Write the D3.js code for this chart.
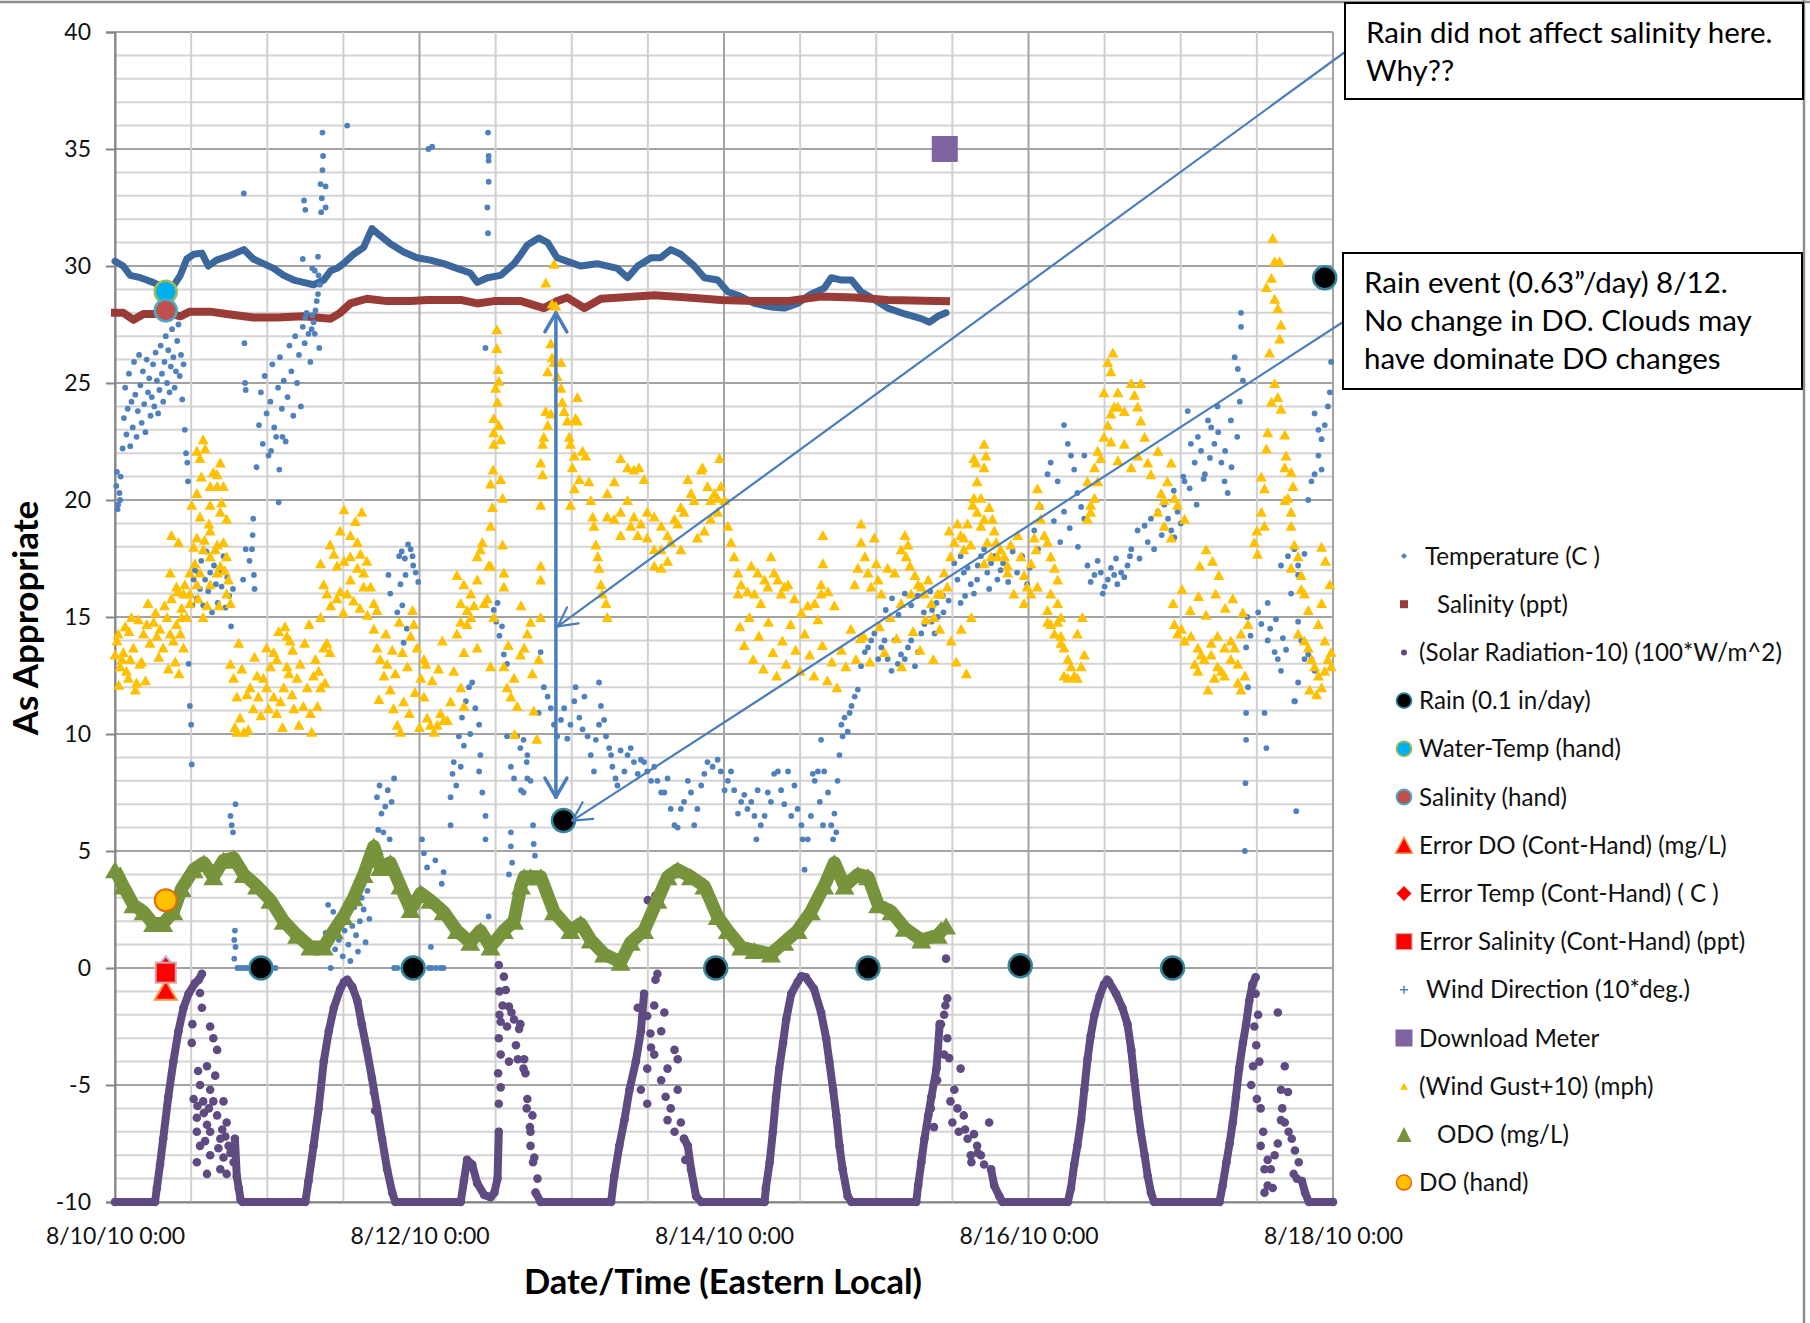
<!DOCTYPE html>
<html><head><meta charset="utf-8">
<script src="https://cdn.jsdelivr.net/npm/d3@7"></script>
<style>body{margin:0;background:#fff;} svg text{font-family:Lato,'Open Sans',sans-serif;}</style>
</head><body><svg id="c" width="1810" height="1323"></svg>
<script>
// ---------------- DATA (hours since 8/10/10 0:00, value) ----------------
const xTickHours = [0,48,96,144,192];
const xTickLabels = ["8/10/10 0:00","8/12/10 0:00","8/14/10 0:00","8/16/10 0:00","8/18/10 0:00"];
const yTicks = [-10,-5,0,5,10,15,20,25,30,35,40];

const temperature = [[0,30.2],[1.3,30.0],[2.4,29.6],[4,29.5],[5,29.4],[6,29.3],[7.6,29.1],[9.2,29.15],[10.3,29.6],[11.3,30.3],[12.4,30.5],[13.7,30.55],[14.7,30.0],[16,30.25],[17.6,30.4],[19,30.55],[20.3,30.7],[21.8,30.3],[23.4,30.1],[25,29.9],[26.6,29.6],[28.2,29.4],[29.7,29.3],[31.3,29.2],[32.9,29.4],[34,29.8],[35,29.9],[36,30.1],[37.6,30.5],[39.2,30.8],[40.5,31.6],[41.8,31.3],[43.4,30.95],[45.5,30.6],[47.6,30.35],[49.7,30.25],[51.8,30.1],[53.9,29.9],[56,29.7],[57.1,29.3],[58.7,29.5],[60.8,29.6],[62.9,30.1],[64,30.5],[65,30.9],[66.8,31.2],[68.2,31.0],[69.7,30.35],[71.3,30.2],[73.4,30.0],[76,30.1],[79.2,29.9],[80.8,29.5],[82.4,30.0],[84.5,30.35],[86,30.35],[87.6,30.7],[89.2,30.5],[91.3,30.0],[92.9,29.5],[95,29.4],[96.6,28.9],[98.2,28.75],[100.8,28.4],[103.4,28.25],[105.5,28.2],[107.6,28.4],[109.7,28.8],[111.8,29.05],[112.9,29.5],[114.5,29.4],[116.1,29.4],[117.6,28.9],[119.2,28.65],[121.8,28.2],[124.5,27.95],[127.1,27.75],[128.4,27.6],[129.7,27.85],[131,28.0]];

const salinity = [[0,28.0],[1.3,28.0],[2.9,27.7],[4.5,27.95],[9,27.95],[10.3,27.85],[11.8,28.05],[15,28.05],[17.6,27.95],[21.8,27.8],[25.5,27.8],[29.7,27.85],[34,27.75],[35.5,28.0],[37.1,28.4],[39.7,28.6],[42.9,28.5],[46.6,28.5],[49.2,28.55],[54.5,28.55],[57.1,28.4],[59.7,28.5],[64,28.5],[67.6,28.2],[69.7,28.5],[71.3,28.65],[74,28.2],[76.6,28.6],[79.7,28.65],[85,28.75],[90.3,28.65],[95.5,28.55],[100.8,28.5],[106,28.5],[111.3,28.7],[116.6,28.65],[121.8,28.55],[131,28.5]];

const solarRadiation = [[0,-10],[6.3,-10],[6.6,-9.4],[7.1,-8.4],[7.6,-7.3],[8.4,-5.5],[9.2,-4.0],[10,-2.7],[10.8,-1.7],[11.6,-1.1],[12.6,-0.65],[13.2,-0.5],[13.7,-0.25],null,
[18.9,-7.3],[19.2,-8.9],[19.5,-9.4],[19.8,-9.9],[20.1,-10],[30,-10],[30.5,-9.1],[31.3,-7.6],[32.1,-6.0],[32.9,-4.0],[33.7,-2.7],[34.5,-1.7],[35.5,-0.9],[36.1,-0.6],[36.6,-0.5],[37.4,-0.8],[38.2,-1.4],[38.9,-2.4],[39.7,-3.5],[40.5,-4.7],[41.3,-6.0],[42.1,-7.3],[42.9,-8.6],[43.7,-9.6],[44.2,-10],[54.5,-10],[55,-9.1],[55.5,-8.2],[56.3,-8.4],[57.1,-9.2],[58.2,-9.7],[59.2,-9.8],[59.8,-9.6],[60.3,-9.0],[60.5,-7.0],null,
[66.3,-9.6],[67.1,-10],[78.2,-10],[78.7,-8.9],[79.5,-7.6],[80.3,-6.5],[81.1,-5.2],[82.1,-4.0],[82.9,-2.7],[83.4,-1.1],null,
[89.7,-7.3],[90.3,-7.6],[90.8,-8.6],[91.6,-9.75],[92.4,-10],[102.4,-10],[102.6,-9.4],[103.2,-8.3],[103.7,-7.0],[104.2,-5.5],[104.7,-4.3],[105.3,-3.2],[105.8,-2.2],[106.6,-1.1],[107.6,-0.6],[108.2,-0.35],[108.9,-0.4],[110.2,-0.9],[111.3,-1.9],[112.1,-3.0],[112.6,-4.0],[113.2,-5.2],[113.7,-6.3],[114.2,-7.6],[114.7,-8.6],[115.5,-9.75],[116.1,-10],[126.3,-10],[126.6,-9.3],[127.1,-8.3],[127.6,-7.3],[128.2,-6.3],[128.7,-5.5],[129.5,-4.3],[130,-2.4],null,
[138.1,-8.6],[138.6,-9.3],[139.4,-9.75],[139.9,-10],[150.2,-10],[150.7,-9.4],[151.2,-8.4],[151.7,-7.6],[152.3,-6.5],[152.8,-5.2],[153.3,-3.9],[153.8,-2.9],[154.4,-2.0],[155.2,-1.2],[155.9,-0.7],[156.4,-0.5],[156.7,-0.6],[157.8,-1.1],[158.8,-1.7],[159.6,-2.4],[160.2,-3.5],[160.7,-4.8],[161.2,-6.0],[161.7,-7.0],[162.3,-8.0],[162.8,-8.9],[163.3,-9.6],[163.8,-10],[174.1,-10],[174.6,-9.3],[175.2,-8.3],[175.7,-7.5],[176.2,-6.6],[176.7,-5.5],[177.2,-4.3],[177.8,-3.2],[178.3,-2.4],[178.8,-1.4],[179.3,-0.7],[179.8,-0.4],null,
[187.1,-9.1],[187.6,-9.6],[188.2,-10],[192,-10]];

const solarCloudy = [[12.1,-3.2],[13.4,-1.07],[13.7,-1.7],[15.0,-2.5],[15.5,-3.0],[14.5,-4.2],[16.1,-3.5],[15.0,-5.2],[13.4,-5.0],[12.4,-5.6],[13.9,-5.7],[15.5,-5.7],[17.1,-5.7],[12.9,-6.4],[14.5,-6.7],[16.1,-6.3],[17.6,-6.6],[12.9,-7.0],[15.0,-7.0],[16.6,-7.3],[17.9,-7.6],[13.4,-7.6],[15.0,-8.0],[17.1,-8.1],[12.9,-8.3],[14.5,-8.8],[17.6,-8.8],[18.7,-8.3],[14.0,-6.2],[16.6,-8.6],[18.2,-7.9],[12.2,-2.4],[13.0,-5.9],[14.2,-7.4],[16.9,-6.9],[13.1,-4.4],[15.8,-4.6],[16.3,-7.7],[14.8,-6.0],[17.4,-7.2],
[40.8,-5.3],[41.0,-6.1],
[60.5,0.13],[60.6,-1.0],[60.6,-2.0],[60.5,-3.0],[60.4,-4.5],[60.5,-5.8],[61.3,-0.37],[61.6,-0.94],[62.1,-1.65],[60.8,-2.3],[62.9,-2.2],[63.7,-2.6],[63.2,-3.3],[60.8,-3.7],[62.1,-4.0],[64.5,-3.9],[64.7,-4.5],[60.8,-5.1],[65,-5.6],[65.8,-6.3],[65.5,-7.0],[65.5,-7.6],[66.1,-8.1],[66.6,-9.0],[63.9,-2.4],[64.4,-4.3],[64.9,-6.0],[65.4,-6.8],[65.9,-8.3],[61.8,-2.5],[62.5,-1.9],[61.1,-1.6],[63.5,-3.9],
[83.9,-2.05],[85.5,-0.25],[85,-1.6],[84.5,-3.4],[86.1,-2.7],[87.1,-4.3],[88.2,-3.5],[88.7,-5.2],[89.2,-6.6],[82.4,-1.7],[86.6,-1.9],[83.9,-4.3],[86.1,-4.8],[87.6,-6.0],[82.9,-5.2],[88.7,-3.9],[85,-3.7],[87.1,-6.5],[89.7,-7.3],[83.9,-5.8],[88.2,-7.0],[85.2,-0.5],[84.4,-2.8],[86.8,-5.5],[89.9,-8.2],[84,2.9],[85.2,3.1],
[131,0.4],[131.2,-1.3],[130.7,-2.0],[130.2,-2.4],[131.2,-3.0],[130.7,-3.7],[131.5,-3.85],[129.6,-4.8],[128.6,-6.0],[129.1,-6.8],[132.3,-5.2],[133.3,-4.3],[132.8,-6.0],[133.8,-6.3],[134.4,-7.3],[135.4,-7.1],[135.9,-7.6],[137.8,-6.6],[136.5,-8.0],[137,-8.4],[134.9,-8.0],[131.7,-5.7],[130.9,-1.6],[132,-6.6],[133,-7.0],[134,-6.9],[136,-7.9],[135,-8.3],
[179.8,-1.1],[180.4,-4.0],[179.1,-5.0],[180.6,-7.6],[181.2,-8.6],[181.7,-9.3],[181.2,-9.6],[183.3,-1.9],[183.8,-5.2],[184.4,-4.2],[184.9,-5.3],[183.3,-7.5],[182.8,-8.0],[183.8,-6.5],[184.4,-6.6],[185.5,-7.3],[186,-7.8],[186.6,-8.3],[181.7,-8.2],[182.2,-8.6],[179.6,-2.5],[179.9,-3.3],[180.2,-2.0],[180.6,-6.0],[181,-7.0],[184,-6.0],[185,-7.0],[185.8,-8.8],[186.3,-9.0],[182.5,-9.4],[179.4,-4.2],[180,-5.6]];

const rain = [[23,0],[47,0],[70.7,6.3],[94.7,0],[118.7,0],[142.7,0.1],[166.7,0],[190.7,29.5]];
const waterTempHand = [[8,28.9]];
const salinityHand = [[8,28.1]];
const errorDO = [[8,-0.95]];
const errorTemp = [[8,0.0]];
const errorSalinity = [[8,-0.2]];
const downloadMeter = [[130.8,35.0]];
const doHand = [[8,2.9]];

const odo = [[0,4.2],[1.3,3.5],[2.9,2.7],[4.5,2.4],[6,1.9],[7.6,1.9],[9.2,2.4],[10.5,3.4],[12.4,4.2],[14,4.5],[15.5,3.9],[17.1,4.6],[18.7,4.7],[20.3,4.0],[22.4,3.5],[24.5,2.9],[26.6,2.0],[28.7,1.4],[30.8,0.9],[32.9,0.9],[34.5,1.6],[36,2.2],[37.6,3.0],[39.2,4.0],[40.8,5.2],[41.8,4.3],[43.4,4.5],[45,3.5],[46.6,2.5],[48.2,3.2],[49.7,2.9],[51.8,2.4],[53.9,1.6],[56,1.1],[57.6,1.6],[59.2,0.9],[61.3,1.6],[62.9,2.0],[64,3.5],[64.5,3.9],[65.5,3.9],[67.1,3.9],[69.2,2.4],[71.8,1.6],[73.4,1.9],[75,1.2],[77.1,0.6],[79.7,0.25],[81.3,1.1],[83.4,1.6],[85.5,2.9],[87.1,3.9],[88.7,4.2],[90.8,3.9],[92.9,3.5],[95,2.2],[96.6,1.6],[98.7,0.9],[100.8,0.75],[103.4,0.6],[105.5,1.1],[107.6,1.6],[109.7,2.4],[111.8,3.5],[113.4,4.5],[115,3.5],[117.1,4.0],[118.7,3.9],[120.3,2.7],[122.4,2.4],[124.5,1.7],[127.1,1.2],[129.7,1.4],[131,1.8]];

const windDirection = [[0.2,20.6],[0.3,21.2],[0.5,19.8],[0.7,20.3],[0.9,21.0],[0.4,19.6],[0.8,20.0],
[1.2,22.2],[1.4,23.5],[1.6,24.8],[1.8,22.8],[2.0,23.9],[2.2,25.4],[2.4,22.3],[2.6,24.2],[2.8,23.1],[3.0,25.9],[3.2,24.5],[3.4,22.7],[3.6,23.8],[3.8,26.2],[4.0,24.9],[4.2,23.3],[4.4,25.5],[4.6,24.1],[4.8,22.9],[5.0,26.0],[5.2,24.6],[5.4,25.2],[5.6,23.6],[5.8,24.4],[6.0,25.8],[6.2,24.0],[6.4,26.3],[6.6,25.1],[6.8,23.7],[7.0,24.7],[7.2,26.6],[7.4,25.4],[7.6,24.2],[7.8,25.9],[8.0,27.0],[8.2,25.0],[8.4,26.4],[8.6,24.6],[8.8,25.7],[9.0,27.3],[9.2,26.1],[9.4,24.8],[9.6,25.5],[9.8,26.8],[10.0,27.5],[10.2,25.3],[10.4,26.2],[10.6,24.3],[10.8,25.8],[11.0,23.0],[11.2,22.0],[11.4,21.6],[11.5,20.8],
[11.6,13.0],[11.8,11.2],[12.0,10.4],[12.1,8.7],[12.2,15.5],[12.4,16.6],
[12.6,17.0],[12.9,15.8],[13.1,16.9],[13.4,16.2],[13.6,17.4],[13.9,15.5],[14.2,16.6],[14.4,17.8],[14.7,16.1],[15.0,16.9],[15.3,15.2],[15.6,17.2],[15.9,16.4],[16.2,15.6],[16.5,17.0],[16.8,16.3],[17.1,17.6],[17.4,15.4],[17.7,16.7],[18.0,15.9],[18.3,14.6],[18.6,16.2],
[18.2,6.5],[18.4,6.1],[18.6,5.8],[19.0,7.0],[18.9,1.6],[18.8,1.2],[19.0,0.9],[18.8,0.4],[19.3,0],[19.8,0],[20.3,0],[20.7,0],[25.3,0],
[20.3,33.1],[20.4,26.7],[20.5,25.0],[20.6,24.7],[20.2,16.6],[20.6,17.9],[21.2,17.4],[21.6,17.9],[21.8,19.2],[21.7,18.5],[21.9,16.8],[22.0,16.2],
[22.3,21.4],[22.7,23.2],[23.0,24.6],[23.3,22.4],[23.6,25.3],[23.9,23.7],[24.2,21.9],[24.5,24.2],[24.8,25.8],[25.1,23.1],[25.4,22.7],[25.7,24.8],[26.0,26.1],[26.3,23.9],[26.6,25.1],[26.9,22.5],[27.2,24.4],[27.5,26.6],[27.8,25.5],[28.1,23.6],[28.4,27.0],[28.7,25.0],[29.0,26.2],[29.3,24.0],[29.6,27.4],[29.9,26.7],[30.2,28.0],[30.5,27.1],[30.8,25.9],[24.6,22.1],[25.9,21.3],[26.4,22.7],[25.8,19.9],
[29.6,30.3],[29.8,32.8],[30.0,32.4],[32.7,35.7],[32.8,34.7],[32.7,34.1],[32.4,33.5],[33.2,33.4],[32.6,32.9],[33.2,32.5],[32.5,32.3],[32.0,30.4],[31.1,29.9],[31.5,29.8],[32.1,29.6],[32.3,29.2],[31.8,28.5],[31.6,28.1],[31.1,27.9],[31.3,27.6],[30.0,27.8],[31.0,27.3],[31.5,27.1],[32.2,26.5],[32.0,28.8],
[33.2,1.5],[33.6,2.7],[34.0,0],[34.4,2.4],[34.7,0.8],[35.0,1.9],[35.3,1.2],[35.6,2.2],[35.9,0.5],[36.2,1.6],[36.5,2.3],[36.8,1.0],[37.1,0.3],[37.4,1.8],[37.7,2.6],[38.0,1.4],[38.3,0.7],[38.6,2.0],[38.9,3.0],[39.2,2.5],[39.5,1.1],[39.8,3.3],[40.1,2.1],[36.6,36.0],
[41.3,7.3],[41.7,7.8],[42.0,6.6],[42.3,5.8],[42.6,6.9],[43.0,7.6],[43.3,5.5],[43.6,7.1],[44.0,8.1],[41.5,5.9],
[43.1,16.8],[43.4,16.0],[44.8,17.6],[45.2,17.8],[45.7,17.5],[46.2,18.1],[46.6,17.9],[47.0,17.2],[47.4,16.9],[45.8,16.8],[45.0,16.4],[45.3,15.5],[46.9,17.6],[47.8,16.5],[44.5,15.2],[46.0,14.5],[45.5,13.9],
[44.0,0],[44.5,0],[49.5,0],[49.9,0],[50.6,0],[51.3,0],[51.8,0],
[48.4,5.5],[48.7,4.9],[49.2,4.3],[50.5,4.6],[51.8,4.1],[51.5,3.6],[49.8,2.9],[49.8,0.9],[49.4,35.0],[50.0,35.1],
[52.9,7.3],[52.9,6.1],[53.4,8.8],[53.2,8.3],[54.2,9.9],[54.7,10.7],[55.3,11.4],[55.8,12.0],[56.3,12.2],[56.8,11.1],[57.4,10.4],[57.4,8.4],[57.6,9.1],[57.9,7.5],[58.4,5.5],[58.4,6.5],[58.9,2.2],[55.0,9.5],[56.0,10.0],[53.8,7.8],[54.5,8.6],
[58.8,35.7],[58.9,34.7],[58.9,34.5],[58.9,33.6],[58.7,32.5],[58.8,31.4],[58.4,26.5],
[59.7,15.3],[60.1,14.8],[60.6,14.2],[61.3,13.4],[61.8,13.0],[60.3,15.6],[61.0,14.6],[61.8,9.9],[62.4,8.6],[62.9,8.1],[62.4,5.8],[62.4,5.2],[62.6,4.5],[62.1,4.0],[63.4,9.9],[63.9,9.4],[65.0,9.1],[65.0,8.1],[64.4,9.75],[64.9,8.8],[65.5,8.0],[65.9,6.1],[66.0,5.3],[66.2,4.8],[67.1,13.5],[67.6,12.0],[66.8,10.9],[64.4,7.5],[64.0,7.6],
[68.2,11.6],[69.2,10.4],[69.7,9.9],[70.8,11.1],[71.8,10.4],[72.6,12.0],[73.2,10.7],[73.7,10.2],[74.5,9.9],[75.0,9.1],[75.5,8.4],[76.3,12.2],[76.6,11.2],[76.3,10.4],[77.4,9.9],[77.9,9.4],[78.4,8.6],[78.9,8.1],[79.2,7.8],[79.7,9.3],[80.8,9.1],[81.8,8.8],[82.9,8.9],[83.9,8.4],[85.0,8.6],[68.7,11.1],[70.3,10.6],[71.3,9.8],[72.4,11.4],[74.0,11.6],[75.8,9.75],[77.1,10.6],[78.2,9.1],[80.3,8.4],[81.3,9.4],[82.4,8.3],[83.4,8.8],[84.5,8.0],
[85.5,8.0],[86.6,7.5],[87.6,6.8],[88.2,6.1],[88.7,6.0],[89.7,7.1],[90.8,7.5],[91.8,6.8],[92.4,7.8],[93.4,8.8],[94.2,8.6],[95.5,8.4],[96.6,8.0],[97.6,7.6],[98.7,7.1],[99.7,6.8],[100.8,6.5],[101.1,5.5],[101.8,6.1],[102.9,7.5],[103.9,8.3],[105.0,7.6],[106.1,8.4],[107.1,7.8],[107.6,6.8],[108.4,5.5],[108.7,4.2],[109.7,6.5],[110.3,8.0],[110.8,8.4],[111.3,9.75],[111.8,8.4],[112.4,7.5],[112.9,6.1],[113.2,5.5],[113.4,6.6],[113.9,8.0],[114.2,9.1],[114.5,10.4],[115.0,10.7],[115.5,10.1],[116.1,11.2],[116.6,11.6],[117.1,11.9],[117.6,12.9],[118.2,13.5],[119.2,14.0],[119.7,14.3],[120.8,13.7],[121.8,13.2],[122.9,14.0],[123.9,13.4],[125.0,13.7],[126.1,12.9],[127.1,14.3],[128.7,14.8],[129.7,15.0],
[86.1,7.5],[87.1,8.1],[89.2,6.8],[90.3,8.0],[91.3,6.1],[92.9,8.3],[95.0,8.9],[96.1,7.6],[97.1,8.4],[98.2,6.6],[99.2,7.4],[100.3,7.1],[101.3,7.6],[102.4,6.5],[103.4,7.1],[104.5,8.4],[105.5,7.0],[106.6,6.5],[108.2,6.1],[109.2,5.5],[110.0,8.3],[111.1,7.1],[111.6,6.1],[113.7,5.8],[114.7,9.9],[115.8,10.9],[118.7,13.7],[120.3,13.2],[121.3,14.0],[122.4,12.7],[123.4,13.0],[124.5,13.2],[125.5,14.0],[126.6,13.5],[127.6,14.7],[129.2,14.3],
[121.5,15.3],[122.5,15.8],[123.5,15.1],[124.5,16.0],[125.5,15.5],[126.5,15.9],[127.5,15.2],[128.5,16.1],[129.5,15.6],[130.5,15.9],
[128.8,15.3],[129.8,16.0],[130.6,15.2],[131.4,15.7],
[132.3,17.3],[133.8,16.9],[134.9,16.4],[136.5,17.6],[137.0,17.9],[138.1,17.3],[139.1,16.6],[135.4,16.0],[133.3,15.6],[132.8,16.6],[133.3,17.6],[134.4,17.1],[135.9,16.6],[136.0,17.2],[137.5,16.9],[138.6,17.6],[139.6,17.0],[134.0,15.9],[137.8,16.2],
[140.0,17.3],[140.8,16.5],[141.5,17.8],[142.2,16.9],[143.0,17.6],[143.8,16.4],[144.2,17.1],
[144.9,18.7],[145.9,19.7],[147.0,21.1],[147.5,21.6],[148.6,20.8],[149.6,19.5],[150.2,22.4],[150.7,21.9],[151.2,21.3],[151.7,20.3],[152.3,19.7],[152.8,19.2],[152.8,21.9],[145.5,17.9],[146.5,18.4],[148.0,19.1],[149.0,18.2],[150.5,18.8],[151.8,18.0],[147.5,17.5],[149.6,23.2],
[153.3,17.2],[154.4,16.8],[155.4,16.9],[156.5,16.6],[157.5,16.8],[158.6,16.9],[159.6,17.2],[153.8,16.5],[154.9,17.4],[156.0,16.3],[157.0,17.1],[158.0,16.4],[159.1,16.7],[160.0,17.6],[155.7,16.0],[157.8,17.5],
[160.2,17.9],[161.2,18.7],[162.3,18.9],[163.3,19.2],[164.4,19.5],[165.4,19.8],[166.5,18.7],[167.5,19.5],[168.6,20.8],[161.5,17.5],[162.8,18.2],[163.8,17.9],[165.0,18.5],[166.0,19.2],[167.0,18.4],[168.0,19.0],[164.9,20.2],[166.9,20.4],
[169.1,23.8],[169.6,22.4],[170.2,21.6],[170.7,22.7],[171.2,22.1],[171.8,21.1],[172.3,23.4],[172.8,23.1],[173.3,22.4],[173.8,24.0],[174.4,21.6],[174.9,20.8],[175.4,20.3],[175.9,23.4],[176.5,26.1],[177.0,25.6],[177.5,28.0],[177.5,27.4],[177.8,25.1],[168.4,21.0],[169.4,20.5],[170.5,19.8],[171.6,20.9],[172.6,21.8],[173.9,22.9],[175.0,22.1],[176.0,21.4],[176.9,22.7],[177.3,24.2],
[178.3,13.7],[178.6,12.0],[178.3,10.9],[178.3,9.75],[178.2,7.9],[178.1,5.0],[181.2,10.9],[181.5,9.4],[180.7,14.7],[181.7,14.0],[182.8,13.5],[183.3,13.2],[183.8,12.7],[185.9,11.4],[186.2,6.7],[178.5,15.0],[179.0,14.2],[180.2,15.2],[182.1,14.5],[183.0,14.9],[184.1,14.1],[184.6,13.6],
[181.7,15.6],[183.8,17.2],[184.9,17.6],[185.9,17.9],[186.5,17.2],[187.5,17.7],[185.4,16.0],[186.5,16.8],[188.1,20.0],[188.6,20.8],[189.1,21.1],[189.7,21.9],[190.2,22.6],[190.7,23.2],[191.2,24.0],[191.5,24.6],[191.7,25.9],[189.1,23.7],[189.7,23.0],[190.2,21.3],
[186.5,14.8],[187.0,14.0],[187.5,13.2],[188.1,13.4],[188.6,13.2],[189.1,12.7],[186.5,12.2],[186.0,11.4]];

const windGust = [[0.0,13.4],[0.3,14.0],[0.8,12.9],[1.3,13.5],[1.8,12.7],[2.4,13.2],[2.9,13.7],[3.4,12.2],[3.9,13.0],[4.5,14.3],[5.0,14.7],[5.5,13.9],[6.1,14.8],[6.6,14.2],[7.1,14.5],[7.6,13.7],[8.2,15.0],[8.7,14.3],[9.2,14.0],[9.7,14.7],[10.3,14.3],[10.8,13.7],[11.3,15.0],[3.2,11.9],[2.1,12.4],[1.1,13.2],[0.5,14.3],[7.8,15.5],[8.9,15.8],[9.9,16.1],[10.5,15.4],[11.0,16.4],[6.4,15.2],[5.2,15.6],[2.6,15.0],[1.6,14.6],[3.7,14.9],[4.2,13.1],[6.9,13.3],[8.4,12.8],[9.5,13.1],[10.1,12.6],[4.8,12.3],[0.6,12.1],[2.2,14.4],
[13.9,22.6],[14.2,22.2],[12.9,22.1],[13.4,21.8],[16.6,21.6],[16.1,21.1],[15.0,20.6],[12.9,20.3],[12.1,19.8],[16.1,20.6],[17.1,20.6],[15.0,19.8],[13.4,19.3],[16.6,19.5],[17.6,19.2],[15.0,18.7],[12.9,18.4],[16.1,18.1],[17.1,18.2],[13.9,17.9],[15.0,17.6],[17.6,17.6],[13.4,16.9],[16.6,17.2],[16.1,16.9],[15.0,16.4],[12.9,16.4],[11.8,16.0],[17.6,16.0],[18.2,15.6],[14.5,15.5],[13.9,15.0],[8.9,18.5],[10.0,18.2],[8.7,16.9],[11.8,16.9],[9.7,16.3],[10.8,16.0],[11.8,15.6],[10.5,15.0],[13.6,21.0],[14.8,19.0],[15.5,21.2],[12.4,18.0],[16.8,19.9],[17.3,17.0],[14.1,18.3],[15.8,17.9],[12.6,17.3],[13.1,15.8],[16.4,15.5],[17.9,16.6],
[18.2,13.0],[18.7,12.4],[19.2,11.6],[19.7,10.7],[20.3,10.1],[19.2,10.1],[20.8,11.7],[21.3,12.0],[22.4,12.5],[21.8,11.1],[22.6,11.6],[23.4,12.4],[23.9,12.0],[24.5,12.9],[25.0,13.5],[25.5,13.2],[23.9,13.7],[25.0,11.6],[25.5,10.9],[26.1,11.4],[26.6,12.0],[27.1,12.9],[27.6,14.0],[27.1,14.2],[26.8,14.6],[27.9,11.7],[28.2,11.1],[28.7,12.4],[29.2,13.0],[29.7,11.2],[30.3,12.0],[30.8,10.9],[31.3,12.5],[31.6,13.2],[32.1,12.7],[32.4,12.0],[32.9,13.7],[33.4,13.9],[33.9,13.5],[32.4,15.0],[18.9,10.3],[20.0,12.8],[21.0,10.2],[22.0,13.3],[23.0,10.8],[24.2,11.1],[26.4,10.3],[27.4,12.6],[28.0,13.6],[29.0,10.4],[29.9,13.9],[31.0,10.1],[31.9,11.2],[33.1,12.2],[19.5,13.9],[25.8,14.4],[30.6,14.7],
[36.1,19.6],[38.9,19.5],[37.9,19.1],[35.5,18.7],[37.1,18.5],[38.2,18.2],[38.7,17.7],[39.7,17.4],[33.9,18.1],[34.5,17.7],[35.0,17.2],[36.1,17.4],[37.1,17.6],[38.2,17.1],[39.2,16.9],[32.4,17.3],[32.9,16.4],[33.4,16.0],[40.3,16.3],[40.8,15.6],[35.5,16.1],[36.6,16.0],[37.1,16.6],[39.2,16.3],[34.0,15.5],[35.0,15.8],[36.0,15.2],[37.6,15.7],[38.6,15.4],[39.8,15.1],[41.3,15.3],
[40.8,14.5],[41.3,13.7],[41.8,13.2],[42.4,12.5],[42.9,13.0],[43.4,11.9],[43.9,11.1],[44.5,10.4],[45.0,10.1],[45.5,11.4],[46.1,12.9],[46.6,14.2],[47.1,14.7],[47.6,13.7],[48.2,12.4],[48.7,11.6],[49.2,10.7],[49.7,10.4],[50.3,10.1],[50.8,10.4],[51.3,10.9],[51.8,10.6],[48.7,13.2],[41.6,11.5],[42.7,14.3],[43.7,13.6],[44.2,12.6],[45.3,13.5],[46.4,10.9],[47.3,11.8],[48.0,10.3],[49.0,13.0],[50.0,12.3],[51.0,12.8],[51.6,14.0],[44.8,14.8],[46.9,15.3],
[52.9,11.4],[53.4,12.7],[53.9,14.3],[54.5,14.8],[55.0,13.5],[55.5,14.7],[56.1,15.0],[57.1,13.7],[52.4,10.6],[54.5,12.0],[55.0,11.2],[59.2,12.9],[61.3,12.9],[61.8,12.0],[62.4,11.6],[62.9,12.4],[63.4,11.2],[63.9,13.4],[64.5,13.7],[65.0,14.3],[65.5,14.8],[53.9,16.8],[55.0,16.4],[56.1,16.0],[57.1,16.6],[58.2,15.6],[54.5,15.6],[55.5,15.3],[56.6,15.5],[57.6,17.9],[57.9,18.2],[57.1,17.6],[59.2,17.2],
[60.2,27.3],[60.2,26.5],[60.4,25.6],[60.5,25.1],[60.0,24.8],[60.3,24.2],[59.7,23.5],[60.5,23.2],[59.7,22.9],[60.8,22.6],[59.7,22.4],[59.6,21.3],[60.8,20.9],[59.2,20.7],[61.1,20.1],[59.5,19.7],[59.2,18.9],[61.1,18.1],[61.3,16.9],[61.3,16.3],[58.9,17.2],[58.7,15.8],[59.7,15.0],[66.0,11.0],[66.5,9.8],[65.8,12.6],[63.0,10.0],[62.0,13.8],[64.0,15.5],[66.8,13.2],
[69.2,30.1],[67.9,29.3],[68.9,28.4],[69.5,28.3],[68.7,26.7],[68.9,26.1],[69.2,25.9],[68.2,25.5],[70.3,25.9],[69.7,25.3],[70.3,24.8],[70.5,24.2],[70.8,23.8],[71.3,23.4],[71.6,22.7],[71.8,22.4],[72.4,21.9],[72.9,24.4],[72.6,23.5],[72.9,23.4],[67.9,23.8],[68.7,23.7],[68.2,23.2],[67.6,22.7],[67.4,22.4],[67.1,21.6],[67.4,21.1],[67.1,19.8],[67.1,17.2],[67.1,16.6],[67.1,15.0],[72.1,21.4],[72.4,20.5],[71.8,19.8],[73.2,20.9],[73.7,22.1],[74.2,21.9],[74.7,20.8],[75.0,20.0],[75.3,19.3],[75.5,18.9],[75.8,18.1],[76.1,17.6],[76.3,17.1],[76.6,16.4],[76.8,16.0],[77.4,15.6],[77.6,15.0],
[77.6,20.3],[78.7,20.8],[79.7,21.8],[80.8,21.4],[81.8,21.3],[82.6,21.4],[83.4,20.9],[79.7,19.5],[80.8,20.0],[81.8,19.3],[82.9,19.0],[83.9,19.5],[85.0,19.3],[86.1,18.9],[87.1,18.5],[88.2,19.2],[89.2,19.7],[90.3,20.9],[90.8,20.3],[91.3,20.0],[92.4,21.3],[93.4,20.6],[94.5,20.3],[95.3,21.8],[95.5,20.6],[96.1,20.0],[95.0,19.5],[93.9,19.2],[92.9,18.7],[91.8,18.4],[89.2,17.9],[87.6,18.2],[86.1,17.9],[85.0,17.9],[83.9,18.4],[82.4,18.5],[81.3,18.9],[78.7,19.2],[79.7,18.5],[77.6,19.3],[87.1,17.4],[86.1,17.1],[85.0,17.2],[88.7,19.0],[89.7,19.5],[93.9,20.0],[95.0,20.1],[92.6,21.4],
[96.6,18.9],[97.1,18.2],[97.6,17.6],[98.2,16.9],[98.7,16.4],[99.7,16.1],[100.8,16.0],[101.8,15.6],[102.9,16.3],[103.9,16.9],[105.0,16.0],[106.1,16.4],[107.1,15.8],[108.2,15.2],[109.2,15.5],[100.3,17.2],[101.3,16.9],[102.4,16.6],[103.4,17.6],[104.5,16.6],[105.5,16.3],[98.2,16.0],
[98.5,14.6],[99.2,13.8],[100.0,15.0],[100.6,13.2],[101.5,14.2],[102.2,12.8],[103.0,14.8],[103.7,13.5],[104.3,12.5],[105.2,14.0],[105.8,13.0],[106.5,14.7],[107.3,13.6],[108.0,12.7],[108.7,14.3],[109.5,13.4],[110.2,12.5],[110.8,14.9],[111.5,13.8],[112.3,12.3],[113.0,13.1],[113.8,12.0],[114.5,13.6],[115.2,12.9],[116.0,14.5],[116.8,13.2],[117.5,14.1],
[110.3,15.6],[111.3,16.4],[111.6,17.3],[111.6,18.5],[111.3,16.0],[112.4,16.1],[113.4,15.5],[116.6,16.4],[117.1,17.1],[117.6,19.0],[117.6,18.2],[118.2,17.6],[118.7,16.9],[119.7,18.4],[120.0,17.3],[120.3,16.6],[120.8,16.0],[119.2,16.3],[121.8,17.1],[122.9,16.9],[123.9,17.9],[124.5,18.5],[125.0,18.1],[124.7,17.6],[125.3,17.2],[126.1,16.8],[126.6,16.4],[127.1,16.3],[127.6,16.0],[128.2,16.6],[128.7,15.6],[129.7,16.0],[125.5,16.0],[123.9,15.6],[118.0,14.2],[119.0,13.1],[120.5,14.6],[121.3,13.5],[122.2,15.0],[123.2,14.1],[124.0,12.9],[125.8,14.4],[126.9,13.6],[127.8,14.9],[129.0,13.2],[130.0,14.5],
[129.1,15.0],[130.2,16.0],[131.2,16.3],[130.7,16.9],[131.7,17.6],[132.3,18.2],[132.8,19.0],[133.3,18.5],[133.8,17.9],[131.5,18.7],[135.4,21.8],[135.7,21.6],[137.0,22.4],[137.3,21.9],[137.0,21.4],[135.9,20.8],[135.4,20.1],[136.5,20.1],[135.9,19.5],[137.0,19.2],[135.2,19.8],[137.8,19.7],[138.3,19.2],[138.6,18.7],[138.9,18.2],[139.1,17.6],[136.5,18.9],[134.4,19.0],[133.8,18.4],[134.9,18.1],[137.5,18.2],[138.1,17.6],[137.0,17.3],[139.6,17.9],[140.2,17.6],[140.7,17.2],[141.2,18.1],[142.3,18.5],[142.8,17.6],[143.3,16.8],[143.8,16.3],[144.4,17.3],[145.4,20.5],[145.7,19.8],[145.9,19.2],[144.9,18.4],[145.2,17.9],[143.3,15.6],[141.7,16.0],[140.7,16.9],[144.4,16.0],[145.4,16.3],[146.5,18.5],[147.0,18.2],[147.5,17.6],[148.1,17.1],[148.6,16.6],[147.5,16.0],[148.6,15.6],[147.0,15.3],[149.1,15.0],[131.8,14.0],[132.6,13.1],[133.4,14.5],[134.2,12.6],[135.0,15.0],
[147.0,14.8],[147.5,14.7],[148.6,14.8],[149.1,14.2],[149.6,13.7],[150.2,13.2],[150.7,12.9],[151.2,12.5],[151.7,12.4],[152.3,12.9],[152.8,13.4],[149.6,12.5],[150.2,12.4],[149.1,13.9],[148.1,14.3],[151.7,14.3],[152.5,15.0],
[157.3,26.3],[156.5,25.9],[157.0,25.5],[158.1,24.6],[157.5,24.0],[155.9,24.6],[157.0,23.7],[156.5,23.2],[155.9,22.7],[155.4,21.8],[154.9,20.8],[154.4,20.1],[153.8,19.5],[153.3,20.8],[158.1,24.0],[159.1,23.8],[160.2,25.0],[160.7,24.5],[161.2,24.0],[161.7,25.0],[161.7,23.4],[162.3,22.7],[162.8,21.6],[163.3,21.1],[159.1,22.4],[160.2,21.4],[161.2,21.9],[158.1,21.7],[157.0,22.5],[154.9,22.1],[154.4,21.4],[153.3,19.2],[153.8,19.8],[164.4,22.1],[164.9,20.3],[165.4,20.0],[165.9,20.8],[166.5,21.6],[167.0,20.1],[167.5,19.8],[168.6,19.2],[164.4,19.5],[165.4,18.9],[166.5,18.4],
[167.0,14.7],[167.5,14.3],[168.1,14.5],[168.6,14.0],[169.6,14.2],[170.7,13.7],[171.7,13.2],[172.8,13.4],[173.8,12.9],[174.9,13.7],[175.9,14.0],[177.0,13.0],[178.1,12.5],[170.7,12.7],[172.3,11.9],[173.3,12.4],[174.4,12.7],[175.9,13.2],[176.5,13.7],[177.5,14.3],[178.6,14.7],[170.2,13.0],[171.2,13.4],[172.8,13.9],[173.8,14.2],[174.9,12.5],[177.0,12.2],[177.5,11.9],[166.8,15.6],[168.2,16.2],[169.5,15.3],[170.8,15.9],[172.0,15.1],[173.5,16.0],[175.0,15.4],[176.2,15.8],[177.8,15.2],[171.0,17.2],[172.0,17.9],[173.0,17.4],[174.0,16.8],
[182.5,31.2],[182.8,30.2],[183.6,30.2],[182.3,29.5],[181.5,29.1],[182.8,28.6],[183.3,28.2],[183.8,27.5],[183.6,26.9],[182.0,26.3],[182.8,25.0],[182.3,24.2],[183.3,24.4],[183.8,23.9],[181.7,22.9],[181.5,22.2],[184.4,22.8],[184.6,21.9],[184.4,21.4],[185.4,21.2],[185.7,20.6],[180.7,21.0],[181.2,20.5],[180.7,19.5],[181.2,18.9],[180.0,18.7],[179.6,18.2],[180.1,17.7],[184.9,20.1],[185.4,19.5],[185.4,18.9],[184.4,20.0],[185.9,18.1],[185.4,17.1],[186.5,17.6],[187.0,16.8],[187.5,16.0],[188.1,15.3],[187.0,16.2],[190.2,15.6],
[186.5,14.3],[187.5,14.0],[188.1,13.7],[188.6,13.2],[189.1,12.9],[189.7,12.5],[190.2,12.0],[190.7,12.7],[191.2,13.2],[191.7,13.5],[189.7,14.7],[190.7,14.0],[191.7,12.9],[188.3,11.9],[189.4,11.7],[190.2,18.0],[190.8,17.4],[191.5,16.4]];

const legendLabels = ["Temperature (C )","Salinity (ppt)","(Solar Radiation-10) (100*W/m^2)","Rain (0.1 in/day)","Water-Temp (hand)","Salinity (hand)","Error DO (Cont-Hand) (mg/L)","Error Temp (Cont-Hand) ( C )","Error Salinity (Cont-Hand) (ppt)","Wind Direction (10*deg.)","Download Meter","(Wind Gust+10) (mph)","ODO (mg/L)","DO (hand)"];
const note1Lines = ["Rain did not affect salinity here.","Why??"];
const note2Lines = ["Rain event (0.63\u201D/day) 8/12.","No change in DO. Clouds may","have dominate DO changes"];
const arrowSalTip = [69.8,14.6];
const arrowRainTip = [72.1,6.3];
const doubleArrow = [[69.5,28.0],[69.5,7.3]];

// ---------------- DRAWING ----------------
const W=1810,H=1323;
const svg=d3.select("#c");
svg.append("rect").attr("width",W).attr("height",H).attr("fill","#fff");
const x=d3.scaleLinear().domain([0,192]).range([115,1333]);
const y=d3.scaleLinear().domain([-10,40]).range([1202,32]);
const C={temp:"#3B679C",sal:"#993B37",solar:"#5F4B82",wind:"#4F81BD",gust:"#FFC000",odo:"#77933C",dl:"#8064A2",arrow:"#4A7EBB"};

svg.append("line").attr("x1",0).attr("x2",W).attr("y1",2).attr("y2",2).attr("stroke","#8e8e8e").attr("stroke-width",2.5);
svg.append("line").attr("x1",1804).attr("x2",1804).attr("y1",0).attr("y2",H).attr("stroke","#8e8e8e").attr("stroke-width",2.5);

const grid=svg.append("g");
grid.selectAll("line.h").data(y.ticks(50)).join("line")
 .attr("x1",x(0)).attr("x2",x(192)).attr("y1",d=>y(d)).attr("y2",d=>y(d))
 .attr("stroke",d=>d%5===0?"#a3a3a3":"#d4d4d4").attr("stroke-width",2);
grid.selectAll("line.v").data(d3.range(0,193,12)).join("line")
 .attr("y1",y(-10)).attr("y2",y(40)).attr("x1",d=>x(d)).attr("x2",d=>x(d))
 .attr("stroke",d=>d%48===0?"#a3a3a3":"#d0d0d0").attr("stroke-width",2);

const ax=svg.append("g").attr("transform",`translate(${x(0)},0)`)
 .call(d3.axisLeft(y).tickValues(yTicks).tickFormat(d=>String(d)).tickSize(9).tickPadding(15));
const bx=svg.append("g").attr("transform",`translate(0,${y(-10)})`)
 .call(d3.axisBottom(x).tickValues(xTickHours).tickFormat((d,i)=>xTickLabels[i]).tickSize(0).tickPadding(26));
[ax,bx].forEach(a=>{a.selectAll("path,line").attr("stroke","#868686").attr("stroke-width",2);
 a.selectAll("text").attr("font-size",23).attr("fill","#111").attr("font-family","Lato,'Open Sans',sans-serif");});

const tri=(cx,cy,w,h)=>`M${cx},${cy-h/2}L${cx+w/2},${cy+h/2}L${cx-w/2},${cy+h/2}Z`;
const dia=(cx,cy,w,h)=>`M${cx},${cy-h/2}L${cx+w/2},${cy}L${cx},${cy+h/2}L${cx-w/2},${cy}Z`;
const px=d=>x(d[0]), py=d=>y(d[1]);
const line=d3.line().defined(d=>d!==null).x(px).y(py);
const plot=svg.append("g");

plot.append("path").datum(temperature).attr("d",line).attr("fill","none").attr("stroke",C.temp).attr("stroke-width",7).attr("stroke-linejoin","round").attr("stroke-linecap","round");
plot.append("path").datum(salinity).attr("d",line).attr("fill","none").attr("stroke",C.sal).attr("stroke-width",8).attr("stroke-linejoin","round").attr("stroke-linecap","square");
plot.append("path").datum(solarRadiation).attr("d",line).attr("fill","none").attr("stroke",C.solar).attr("stroke-width",8).attr("stroke-linejoin","round").attr("stroke-linecap","round");
plot.selectAll("circle.sol").data(solarRadiation.filter(d=>d)).join("circle").attr("cx",px).attr("cy",py).attr("r",4.3).attr("fill",C.solar);
plot.selectAll("circle.solc").data(solarCloudy).join("circle").attr("cx",px).attr("cy",py).attr("r",4.3).attr("fill",C.solar);
plot.selectAll("circle.rain").data(rain).join("circle").attr("cx",px).attr("cy",py).attr("r",11.5).attr("fill","#000").attr("stroke","#31859C").attr("stroke-width",2.5);
plot.selectAll("circle.wt").data(waterTempHand).join("circle").attr("cx",px).attr("cy",py).attr("r",11).attr("fill","#00B0F0").attr("stroke","#9BBB59").attr("stroke-width",2.5);
plot.selectAll("circle.sh").data(salinityHand).join("circle").attr("cx",px).attr("cy",py).attr("r",11).attr("fill","#C0504D").attr("stroke","#4BACC6").attr("stroke-width",2.5);
plot.selectAll("path.edo").data(errorDO).join("path").attr("d",d=>tri(px(d),py(d),22,19)).attr("fill","#FF0000").attr("stroke","#F79646").attr("stroke-width",2);
plot.selectAll("path.et").data(errorTemp).join("path").attr("d",d=>dia(px(d),py(d),20,24)).attr("fill","#FF0000").attr("stroke","#B3C3E0").attr("stroke-width",2);
plot.selectAll("rect.es").data(errorSalinity).join("rect").attr("x",d=>px(d)-10).attr("y",d=>py(d)-10).attr("width",20).attr("height",20).attr("fill","#FF0000").attr("stroke","#D5A3A3").attr("stroke-width",2);
plot.selectAll("circle.wd").data(windDirection).join("circle").attr("cx",px).attr("cy",py).attr("r",2.9).attr("fill",C.wind);
plot.selectAll("rect.dl").data(downloadMeter).join("rect").attr("x",d=>px(d)-13).attr("y",d=>py(d)-13).attr("width",26).attr("height",26).attr("fill",C.dl);
plot.selectAll("path.gu").data(windGust).join("path").attr("d",d=>tri(px(d),py(d),11,10)).attr("fill",C.gust);
plot.append("path").datum(odo).attr("d",line).attr("fill","none").attr("stroke",C.odo).attr("stroke-width",13).attr("stroke-linejoin","round");
plot.selectAll("path.odo").data(odo).join("path").attr("d",d=>tri(px(d),py(d),20,17)).attr("fill",C.odo);
plot.selectAll("circle.doh").data(doHand).join("circle").attr("cx",px).attr("cy",py).attr("r",11).attr("fill","#FFC000").attr("stroke","#E46C0A").attr("stroke-width",2);

// annotations
const ann=svg.append("g").attr("stroke",C.arrow).attr("fill","none").attr("stroke-linecap","round");
function openHead(tx,ty,fx,fy,len,deg,w){
  const a=Math.atan2(fy-ty,fx-tx), r=deg*Math.PI/180;
  [a-r,a+r].forEach(b=>ann.append("line").attr("x1",tx).attr("y1",ty).attr("x2",tx+len*Math.cos(b)).attr("y2",ty+len*Math.sin(b)).attr("stroke-width",w));
}
const box1={x:1345,y:3,w:458,h:96}, box2={x:1343,y:253,w:459,h:136};
const aStart=[box1.x,52], bStart=[box2.x,322];
const aTip=[x(arrowSalTip[0]),y(arrowSalTip[1])], bTip=[x(arrowRainTip[0]),y(arrowRainTip[1])];
ann.append("line").attr("x1",aStart[0]).attr("y1",aStart[1]).attr("x2",aTip[0]).attr("y2",aTip[1]).attr("stroke-width",2.2);
openHead(aTip[0],aTip[1],aStart[0],aStart[1],21,28,2.2);
ann.append("line").attr("x1",bStart[0]).attr("y1",bStart[1]).attr("x2",bTip[0]).attr("y2",bTip[1]).attr("stroke-width",2.2);
openHead(bTip[0],bTip[1],bStart[0],bStart[1],21,28,2.2);
const dTop=[x(doubleArrow[0][0]),y(doubleArrow[0][1])], dBot=[x(doubleArrow[1][0]),y(doubleArrow[1][1])];
ann.append("line").attr("x1",dTop[0]).attr("y1",dTop[1]).attr("x2",dBot[0]).attr("y2",dBot[1]).attr("stroke-width",3.5);
openHead(dTop[0],dTop[1],dBot[0],dBot[1],22,30,3.5);
openHead(dBot[0],dBot[1],dTop[0],dTop[1],22,30,3.5);

[[box1,note1Lines,[43,81]],[box2,note2Lines,[293,331,369]]].forEach(([b,lines,bl])=>{
  svg.append("rect").attr("x",b.x).attr("y",b.y).attr("width",b.w).attr("height",b.h).attr("fill","#fff").attr("stroke","#000").attr("stroke-width",2);
  lines.forEach((t,i)=>svg.append("text").attr("x",b.x+21).attr("y",bl[i]).attr("font-size",29.5).attr("fill","#000").text(t));
});

// legend
const leg=svg.append("g");
const lx=1404, ly0=556, ldy=48.2;
const textX=[1425,1437,1419,1419,1419,1419,1419,1419,1419,1426,1419,1419,1437,1419];
legendLabels.forEach((lab,i)=>{
  const cy=ly0+i*ldy;
  switch(i){
    case 0: leg.append("path").attr("d",dia(lx,cy,6,6)).attr("fill",C.wind); break;
    case 1: leg.append("rect").attr("x",lx-4).attr("y",cy-4).attr("width",8).attr("height",8).attr("fill",C.sal); break;
    case 2: leg.append("circle").attr("cx",lx).attr("cy",cy).attr("r",3).attr("fill",C.solar); break;
    case 3: leg.append("circle").attr("cx",lx).attr("cy",cy).attr("r",7.5).attr("fill","#000").attr("stroke","#31859C").attr("stroke-width",1.8); break;
    case 4: leg.append("circle").attr("cx",lx).attr("cy",cy).attr("r",7.5).attr("fill","#00B0F0").attr("stroke","#9BBB59").attr("stroke-width",1.8); break;
    case 5: leg.append("circle").attr("cx",lx).attr("cy",cy).attr("r",7.5).attr("fill","#C0504D").attr("stroke","#4BACC6").attr("stroke-width",1.8); break;
    case 6: leg.append("path").attr("d",tri(lx,cy,17,16)).attr("fill","#FF0000").attr("stroke","#F79646").attr("stroke-width",1.5); break;
    case 7: leg.append("path").attr("d",dia(lx,cy,15,15)).attr("fill","#FF0000"); break;
    case 8: leg.append("rect").attr("x",lx-8).attr("y",cy-8).attr("width",16).attr("height",16).attr("fill","#FF0000").attr("stroke","#D5A3A3").attr("stroke-width",1.2); break;
    case 9: leg.append("path").attr("d",`M${lx-4},${cy}H${lx+4}M${lx},${cy-4}V${cy+4}`).attr("stroke",C.wind).attr("stroke-width",1.5); break;
    case 10: leg.append("rect").attr("x",lx-8.5).attr("y",cy-8.5).attr("width",17).attr("height",17).attr("fill",C.dl); break;
    case 11: leg.append("path").attr("d",tri(lx,cy,8,7)).attr("fill",C.gust); break;
    case 12: leg.append("path").attr("d",tri(lx,cy,15,15)).attr("fill",C.odo); break;
    case 13: leg.append("circle").attr("cx",lx).attr("cy",cy).attr("r",7.5).attr("fill","#FFC000").attr("stroke","#E46C0A").attr("stroke-width",1.5); break;
  }
  leg.append("text").attr("x",textX[i]).attr("y",cy+8.5).attr("font-size",24.2).attr("fill","#111").text(lab);
});

svg.append("text").attr("x",723).attr("y",1294).attr("text-anchor","middle").attr("font-size",34.5).attr("font-weight","bold").attr("fill","#000").text("Date/Time (Eastern Local)");
svg.append("text").attr("transform","translate(38,618) rotate(-90)").attr("text-anchor","middle").attr("font-size",35).attr("font-weight","bold").attr("fill","#000").text("As Appropriate");
</script></body></html>
